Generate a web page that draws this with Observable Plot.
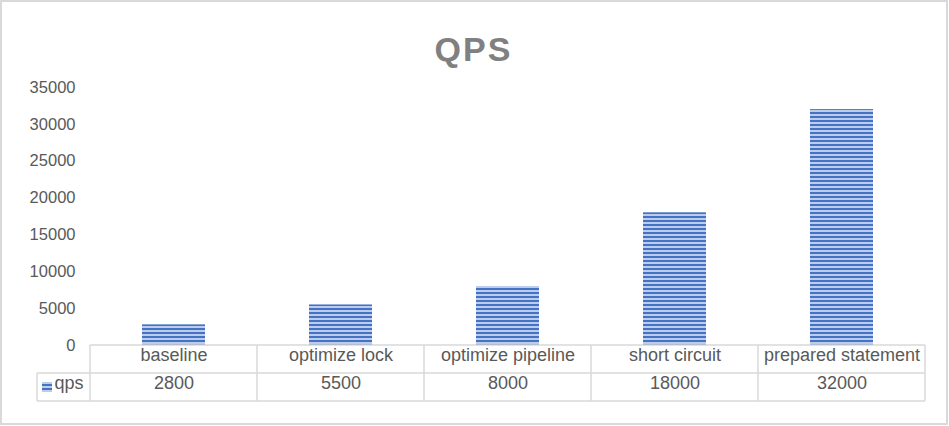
<!DOCTYPE html>
<html>
<head>
<meta charset="utf-8">
<script src="https://cdn.jsdelivr.net/npm/d3@7"></script>
<script src="https://cdn.jsdelivr.net/npm/@observablehq/plot@0.6"></script>
<style>
  html, body { margin: 0; padding: 0; background: #fff; }
  #wrap { position: relative; width: 949px; height: 426px; overflow: hidden; }
  #wrap svg { position: absolute; left: 0; top: 0; }
  #border { position: absolute; left: 0; top: 0; width: 948px; height: 425px; box-sizing: border-box; border: 2px solid #d9d9d9; pointer-events: none; }
</style>
</head>
<body>
<div id="wrap"><div id="border"></div></div>
<script>
// ---- data ----
const categories = ["baseline", "optimize lock", "optimize pipeline", "short circuit", "prepared statement"];
const qps = [2800, 5500, 8000, 18000, 32000];
const seriesName = "qps";
const yTicks = [0, 5000, 10000, 15000, 20000, 25000, 30000, 35000];
const chartTitle = "QPS";

const data = categories.map((c, i) => ({name: c, qps: qps[i]}));

const textColor = "#595959";
const lineColor = "#d9d9d9";
const rowH = 28;

const plot = Plot.plot({
  width: 949,
  height: 426,
  marginTop: 87,
  marginBottom: 81,
  marginLeft: 90,
  marginRight: 23,
  style: {fontFamily: "'Liberation Sans', Arial, Helvetica, sans-serif", fontSize: "16px", color: textColor, background: "transparent"},
  x: {domain: categories, paddingInner: 0.62, paddingOuter: 0.31, axis: null},
  y: {domain: [0, 35000], axis: null},
  marks: [
    Plot.axisY({ticks: yTicks, tickSize: 0, tickPadding: 15, tickFormat: d => String(d), fontSize: 16.5, color: textColor, label: null}),
    Plot.barY(data, {x: "name", y: "qps", fill: "url(#stripes)"}),
    // title
    Plot.text([chartTitle], {frameAnchor: "top", dx: -35, dy: -51, fontSize: 34, fontWeight: "bold", fill: "#808080", className: "chart-title"}),
    // data table: category row
    Plot.text(data, {x: "name", text: "name", frameAnchor: "bottom", dy: rowH / 2 + 1, fontSize: 18, fill: textColor}),
    // data table: values row
    Plot.text(data, {x: "name", text: d => String(d.qps), frameAnchor: "bottom", dy: rowH + rowH / 2 + 1, fontSize: 18, fill: textColor}),
    // legend label
    Plot.text([seriesName], {frameAnchor: "bottom-left", dx: -36, dy: rowH + rowH / 2 + 1, textAnchor: "start", fontSize: 18, fill: textColor})
  ]
});

document.getElementById("wrap").insertBefore(plot, document.getElementById("border"));

const svg = d3.select(plot);
// stripe pattern
const defs = svg.insert("defs", ":first-child");
const pat = defs.append("pattern").attr("id", "stripes").attr("patternUnits", "userSpaceOnUse")
  .attr("width", 8).attr("height", 4);
pat.append("rect").attr("width", 8).attr("height", 4).attr("fill", "#bccdec");
pat.append("rect").attr("width", 8).attr("height", 2).attr("fill", "#4472c4");

svg.selectAll(".chart-title text").style("letter-spacing", "2px");

// table grid using Plot's scales
const xs = plot.scale("x");
const ys = plot.scale("y");
const step = xs.step, bw = xs.bandwidth;
const y0 = ys.apply(0);
const bounds = categories.map(c => xs.apply(c) - (step - bw) / 2);
bounds.push(bounds[bounds.length - 1] + step);
const left = bounds[0], right = bounds[bounds.length - 1];
const legendLeft = left - 53;
const g = svg.append("g").attr("stroke", lineColor).attr("stroke-width", 1.5).attr("fill", "none");
g.append("line").attr("x1", left).attr("x2", right).attr("y1", y0).attr("y2", y0);
g.append("line").attr("x1", legendLeft).attr("x2", right).attr("y1", y0 + rowH).attr("y2", y0 + rowH);
g.append("line").attr("x1", legendLeft).attr("x2", right).attr("y1", y0 + 2 * rowH).attr("y2", y0 + 2 * rowH);
bounds.forEach(b => g.append("line").attr("x1", b).attr("x2", b).attr("y1", y0).attr("y2", y0 + 2 * rowH));
g.append("line").attr("x1", legendLeft).attr("x2", legendLeft).attr("y1", y0 + rowH).attr("y2", y0 + 2 * rowH);
// legend key
svg.append("rect").attr("x", legendLeft + 5).attr("y", y0 + rowH + rowH / 2 - 5)
  .attr("width", 10).attr("height", 10).attr("fill", "url(#stripes)");
</script>
</body>
</html>
